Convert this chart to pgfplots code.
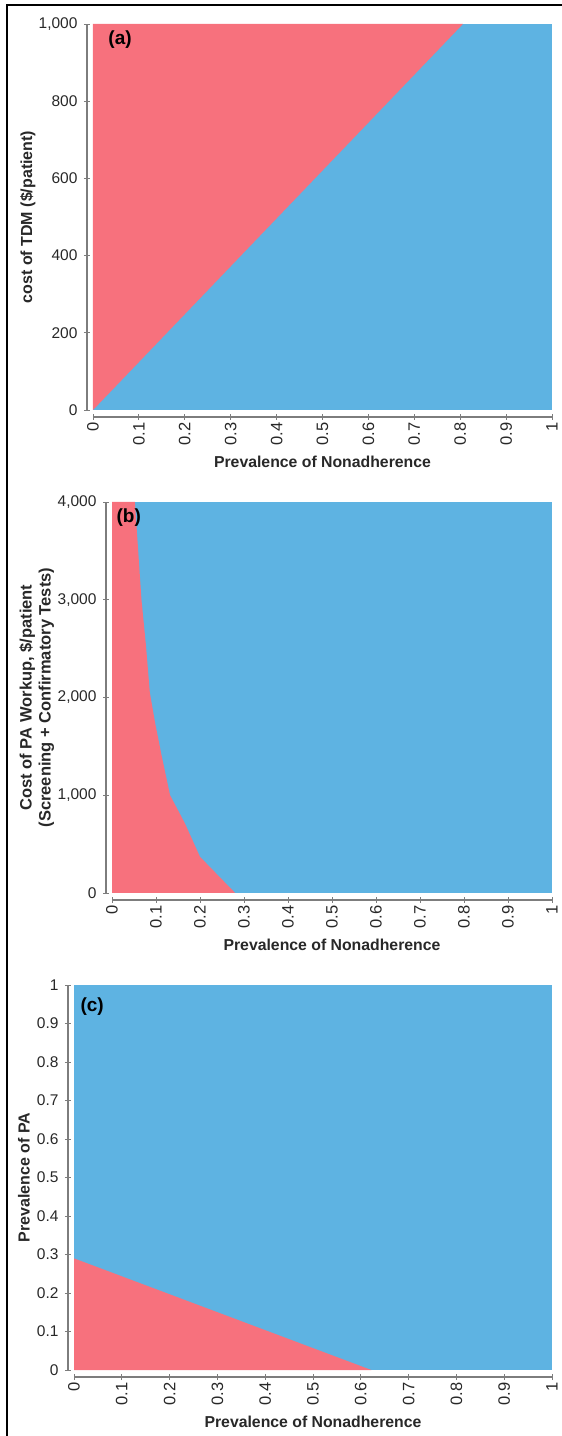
\documentclass[border=0pt]{standalone}
\usepackage{pgfplots}
\pgfplotsset{compat=1.18}
\usepackage{fontspec}
\setmainfont{Liberation Sans}
\definecolor{cred}{RGB}{247,113,125}
\definecolor{cblue}{RGB}{94,179,226}
\definecolor{axgray}{RGB}{125,125,125}
\definecolor{txt}{RGB}{40,40,40}

\tikzset{plab/.style={font=\bfseries\fontsize{19}{21}\selectfont, anchor=center, text=black}}

\pgfplotsset{
  panel/.style={
    scale only axis,
    axis x line*=bottom, axis y line*=left,
    x axis line style={-, axgray, line width=1.4pt, yshift=-7pt},
    y axis line style={-, axgray, line width=1.4pt, xshift=-6pt},
    xtick style={axgray, line width=0.8pt, yshift=-7pt},
    ytick style={axgray, line width=0.8pt, xshift=-6pt},
    tick align=center, major tick length=6pt,
    xmin=0, xmax=1,
    xtick={0,0.1,0.2,0.3,0.4,0.5,0.6,0.7,0.8,0.9,1},
    xticklabels={0,0.1,0.2,0.3,0.4,0.5,0.6,0.7,0.8,0.9,1},
    /pgf/number format/assume math mode=true,
    /pgf/number format/1000 sep={,},
    tick label style={font=\fontsize{15.5}{17}\selectfont, text=txt},
    xticklabel style={rotate=90, anchor=east, font=\fontsize{16.5}{18}\selectfont},
    xticklabel shift=6pt,
    yticklabel style={xshift=-9pt},
    every axis x label/.style={at={(axis description cs:0.5,0)}, yshift=-52pt, anchor=center,
      font=\bfseries\fontsize{15.8}{18}\selectfont, text=txt},
    clip=false,
  },
}

\begin{document}
\begin{tikzpicture}
\path[use as bounding box] (0pt,0pt) rectangle (562pt,1436pt);
\draw[line width=2.7pt, black] (7pt,0pt) -- (7pt,1431pt) -- (562pt,1431pt);

% Panel (a)
\begin{axis}[panel, at={(93pt,1026pt)}, anchor=south west,
  width=459pt, height=386pt,
  ymin=0, ymax=1000, ytick={0,200,400,600,800,1000},
  xlabel={Prevalence of Nonadherence},
  ylabel={cost of TDM (\$/patient)},
  every axis y label/.style={at={(axis description cs:-0.142,0.5)}, rotate=90, anchor=center,
    font=\bfseries\fontsize{16}{18}\selectfont, text=txt},
]
\addplot[fill=cblue, draw=none] coordinates {(0,0) (1,0) (1,1000) (0,1000)} -- cycle;
\addplot[fill=cred, draw=none] coordinates {(0,0) (0,1000) (0.806,1000)} -- cycle;
\node[plab] at (axis description cs:0.059,0.959) {(a)};
\end{axis}

% Panel (b)
\begin{axis}[panel, at={(112pt,543pt)}, anchor=south west,
  width=440pt, height=391pt,
  ymin=0, ymax=4000, ytick={0,1000,2000,3000,4000},
  xlabel={Prevalence of Nonadherence},
  ylabel={Cost of PA Workup, \$/patient\\(Screening + Confirmatory Tests)},
  every axis y label/.style={at={(axis description cs:-0.171,0.5)}, rotate=90, anchor=center, align=center,
    font=\bfseries\fontsize{16.5}{19}\selectfont, text=txt},
]
\addplot[fill=cblue, draw=none] coordinates {(0,0) (1,0) (1,4000) (0,4000)} -- cycle;
\addplot[fill=cred, draw=none] coordinates {(0,0) (0,4000) (0.052,4000) (0.067,3000) (0.077,2540) (0.086,2050) (0.098,1740) (0.113,1400) (0.132,1000) (0.166,710) (0.2,370) (0.28,0)} -- cycle;
\node[plab] at (axis description cs:0.038,0.959) {(b)};
\end{axis}

% Panel (c)
\begin{axis}[panel, at={(74pt,66pt)}, anchor=south west,
  width=478pt, height=385pt,
  ymin=0, ymax=1, ytick={0,0.1,0.2,0.3,0.4,0.5,0.6,0.7,0.8,0.9,1},
  yticklabels={0,0.1,0.2,0.3,0.4,0.5,0.6,0.7,0.8,0.9,1},
  xlabel={Prevalence of Nonadherence},
  ylabel={Prevalence of PA},
  every axis y label/.style={at={(axis description cs:-0.105,0.5)}, rotate=90, anchor=center,
    font=\bfseries\fontsize{16}{18}\selectfont, text=txt},
]
\addplot[fill=cblue, draw=none] coordinates {(0,0) (1,0) (1,1) (0,1)} -- cycle;
\addplot[fill=cred, draw=none] coordinates {(0,0) (0,0.29) (0.622,0)} -- cycle;
\node[plab] at (axis description cs:0.038,0.945) {(c)};
\end{axis}
\end{tikzpicture}
\end{document}
